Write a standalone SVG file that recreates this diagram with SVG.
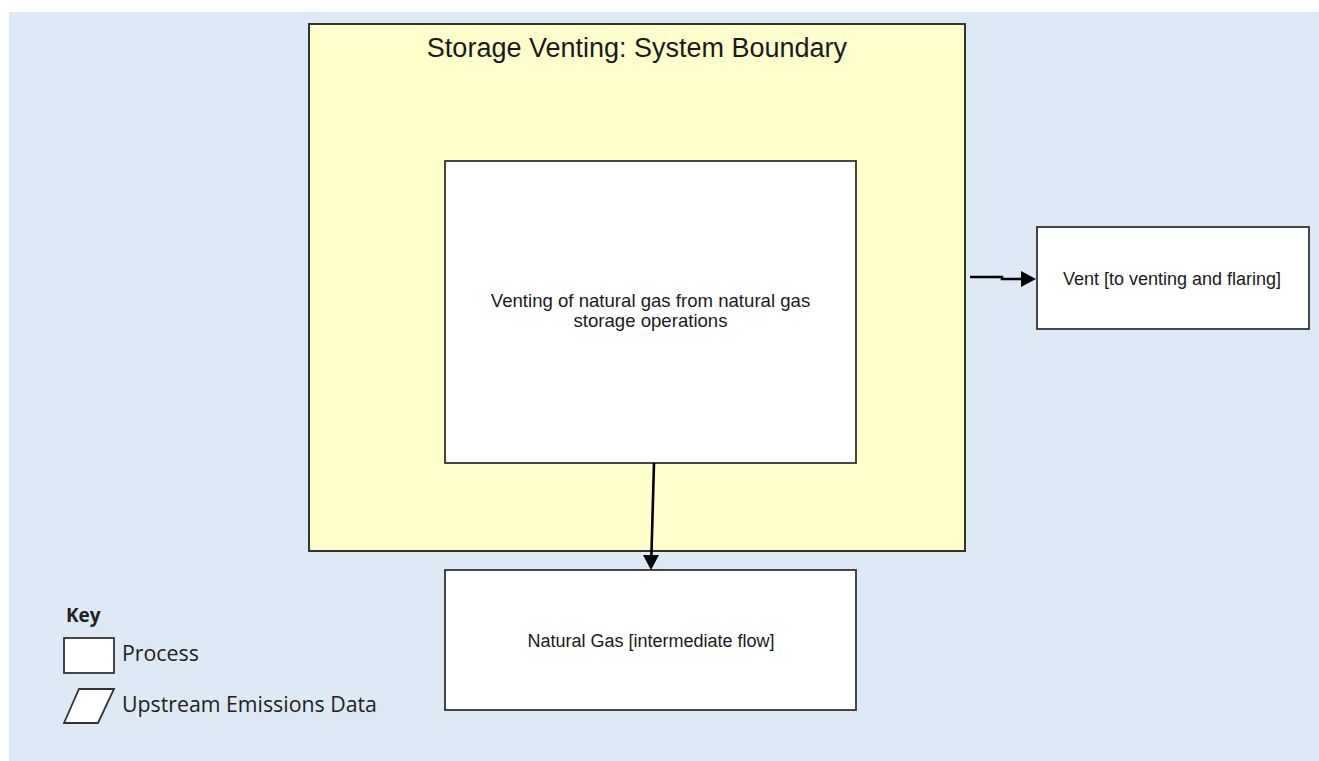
<svg xmlns="http://www.w3.org/2000/svg" width="1319" height="761" viewBox="0 0 1319 761">
<style>
  .bg { fill: #dde9f5; }
  .boundary { fill: #ffffcc; stroke: #333333; stroke-width: 2; }
  .proc { fill: #ffffff; stroke: #333333; stroke-width: 1.8; }
  .lbl { font-family: "Liberation Sans", Arial, sans-serif; fill: #1a1a1a; text-anchor: middle; }
  .key { font-family: "Open Sans", "Noto Sans", sans-serif; fill: #222222; }
  .conn { fill: none; stroke: #000000; stroke-width: 2.6; }
  .head { fill: #000000; }
</style>
<rect class="bg" x="9" y="12" width="1310" height="749"/>

<g id="system-boundary">
  <rect class="boundary" x="309" y="24" width="656" height="527"/>
  <text class="lbl" x="637" y="57" font-size="27">Storage Venting: System Boundary</text>
</g>

<g id="venting-process">
  <rect class="proc" x="445" y="161" width="411" height="302"/>
  <text class="lbl" x="650.5" y="307" font-size="18.6">Venting of natural gas from natural gas</text>
  <text class="lbl" x="650.5" y="327" font-size="18.6">storage operations</text>
</g>

<g id="vent">
  <rect class="proc" x="1037" y="227" width="272" height="102"/>
  <text class="lbl" x="1172" y="285" font-size="18">Vent [to venting and flaring]</text>
</g>

<g id="natural-gas">
  <rect class="proc" x="445" y="570" width="411" height="140"/>
  <text class="lbl" x="651" y="647" font-size="18">Natural Gas [intermediate flow]</text>
</g>

<g id="connectors">
  <path class="conn" d="M970,277 L1002,277 L1002,279 L1022,279"/>
  <polygon class="head" points="1021,271 1036,279 1021,287"/>
  <path class="conn" d="M654,463 L651.4,556"/>
  <polygon class="head" points="643,555 651,570 659,555"/>
</g>

<g id="key">
  <text class="key" x="66" y="622" font-size="19" font-weight="bold">Key</text>
  <rect class="proc" x="64" y="638" width="50" height="35"/>
  <text class="key" x="122" y="661" font-size="21.3">Process</text>
  <polygon class="proc" points="64,723 79,689 114,689 98,723"/>
  <text class="key" x="122" y="712" font-size="21.3">Upstream Emissions Data</text>
</g>
</svg>
